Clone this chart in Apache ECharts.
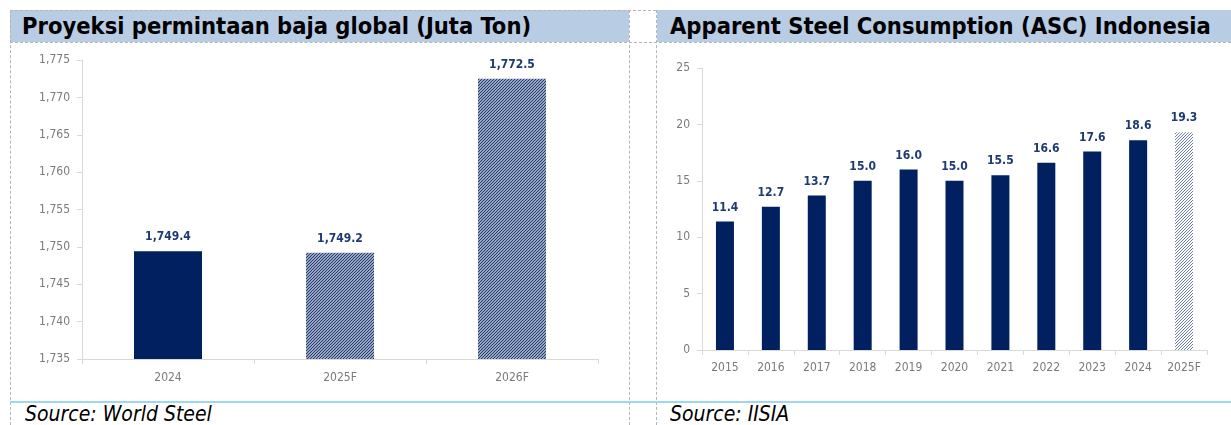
<!DOCTYPE html>
<html>
<head>
<meta charset="utf-8">
<script src="https://cdn.jsdelivr.net/npm/echarts@6/dist/echarts.min.js"></script>
<style>
  html, body { margin: 0; padding: 0; background: #fff; }
  #page { position: relative; width: 1231px; height: 425px; overflow: hidden; }
  .bar-title {
    position: absolute; top: 10px; height: 32px; background: #b8cce4;
    font-family: 'DejaVu Sans Condensed', 'DejaVu Sans', sans-serif;
    font-weight: bold; font-size: 23.5px; color: #000; line-height: 32px;
    white-space: nowrap; box-sizing: border-box;
  }
  .source {
    position: absolute; top: 402px; height: 23px; line-height: 25px;
    font-family: 'DejaVu Sans Condensed', 'DejaVu Sans', sans-serif;
    font-style: italic; font-size: 21px; color: #000; white-space: nowrap;
  }
  .vline { position: absolute; width: 0; border-left: 1px dashed #b4b4b4; }
  .hline { position: absolute; height: 0; border-top: 1px dashed #b4b4b4; }
  .chart { position: absolute; top: 43px; height: 358px; }
</style>
</head>
<body>
<div id="page">
  <div class="bar-title" style="left:10px; width:619px; padding-left:12px;">Proyeksi permintaan baja global (Juta Ton)</div>
  <div class="bar-title" style="left:657px; width:574px; padding-left:13px;">Apparent Steel Consumption (ASC) Indonesia</div>

  <div class="hline" style="left:10px; top:10px; width:646px;"></div>
  <div class="hline" style="left:10px; top:42px; width:1221px;"></div>
  <div class="vline" style="left:10px; top:10px; height:415px;"></div>
  <div class="vline" style="left:629px; top:10px; height:415px;"></div>
  <div class="vline" style="left:656px; top:10px; height:415px;"></div>
  <div style="position:absolute; left:10px; top:401px; width:1221px; height:2px; background:#9cd8f2;"></div>

  <div id="left" class="chart" style="left:11px; width:617px;"></div>
  <div id="right" class="chart" style="left:657px; width:574px;"></div>

  <div class="source" style="left:25px;">Source: World Steel</div>
  <div class="source" style="left:670px;">Source: IISIA</div>
</div>

<script>
// global steel demand (million tonnes)
const demandCategories = ['2024', '2025F', '2026F']
const demandValues = [1749.4, 1749.2, 1772.5]
const demandTicks = { min: 1735, max: 1775, interval: 5 }

// Indonesia apparent steel consumption
const ascCategories = ['2015', '2016', '2017', '2018', '2019', '2020', '2021', '2022', '2023', '2024', '2025F']
const ascValues = [11.4, 12.7, 13.7, 15.0, 16.0, 15.0, 15.5, 16.6, 17.6, 18.6, 19.3]
const ascTicks = { min: 0, max: 25, interval: 5 }

const FONT = "'DejaVu Sans Condensed', 'DejaVu Sans', sans-serif"
const COLORS = {
  navy: '#002060',
  label: '#1f3a73',
  axisText: '#7a7a7a',
  axisLine: '#d9d9d9',
}

// diagonal "///" hatch used for forecast bars
function hatch(fg, size, width) {
  const c = document.createElement('canvas')
  c.width = c.height = size
  const g = c.getContext('2d')
  g.fillStyle = '#fff'
  g.fillRect(0, 0, size, size)
  g.strokeStyle = fg
  g.lineWidth = width
  g.beginPath()
  g.moveTo(0, size); g.lineTo(size, 0)
  g.moveTo(-size / 2, size / 2); g.lineTo(size / 2, -size / 2)
  g.moveTo(size / 2, size * 1.5); g.lineTo(size * 1.5, size / 2)
  g.stroke()
  return c
}

function barData(cats, vals, forecastFill) {
  return vals.map((v, i) => ({
    value: v,
    itemStyle: cats[i].endsWith('F')
      ? { color: { image: forecastFill, repeat: 'repeat' } }
      : { color: COLORS.navy },
  }))
}

function buildOption(cfg) {
  return {
    animation: false,
    grid: cfg.grid,
    xAxis: {
      type: 'category',
      data: cfg.categories,
      axisLine: { lineStyle: { color: COLORS.axisLine } },
      axisTick: { show: true, length: 5, lineStyle: { color: COLORS.axisLine } },
      axisLabel: { fontFamily: FONT, fontSize: 12, color: COLORS.axisText, margin: cfg.xMargin },
    },
    yAxis: {
      type: 'value',
      min: cfg.ticks.min,
      max: cfg.ticks.max,
      interval: cfg.ticks.interval,
      axisLine: { show: true, lineStyle: { color: COLORS.axisLine } },
      axisTick: { show: true, length: 5, lineStyle: { color: COLORS.axisLine } },
      splitLine: { show: false },
      axisLabel: {
        fontFamily: FONT, fontSize: 12, color: COLORS.axisText, margin: 12,
        formatter: v => v.toLocaleString('en-US'),
      },
    },
    series: [{
      type: 'bar',
      barWidth: cfg.barWidth,
      data: barData(cfg.categories, cfg.values, cfg.fill),
      label: {
        show: true,
        position: 'top',
        distance: 8,
        fontFamily: FONT,
        fontWeight: 'bold',
        fontSize: 12,
        color: COLORS.label,
        formatter: p => p.value.toLocaleString('en-US', { minimumFractionDigits: 1, maximumFractionDigits: 1 }),
      },
    }],
  }
}

const leftChart = echarts.init(document.getElementById('left'))
leftChart.setOption(buildOption({
  grid: { left: 71, top: 17, width: 516, height: 299 },
  categories: demandCategories,
  values: demandValues,
  ticks: demandTicks,
  barWidth: 68,
  xMargin: 13,
  fill: hatch('#1f3a73', 3, 1.3),
}))

const rightChart = echarts.init(document.getElementById('right'))
rightChart.setOption(buildOption({
  grid: { left: 45, top: 25, width: 505, height: 282 },
  categories: ascCategories,
  values: ascValues,
  ticks: ascTicks,
  barWidth: 18,
  xMargin: 12,
  fill: hatch('#5a6d9c', 3, 0.9),
}))
</script>
</body>
</html>
